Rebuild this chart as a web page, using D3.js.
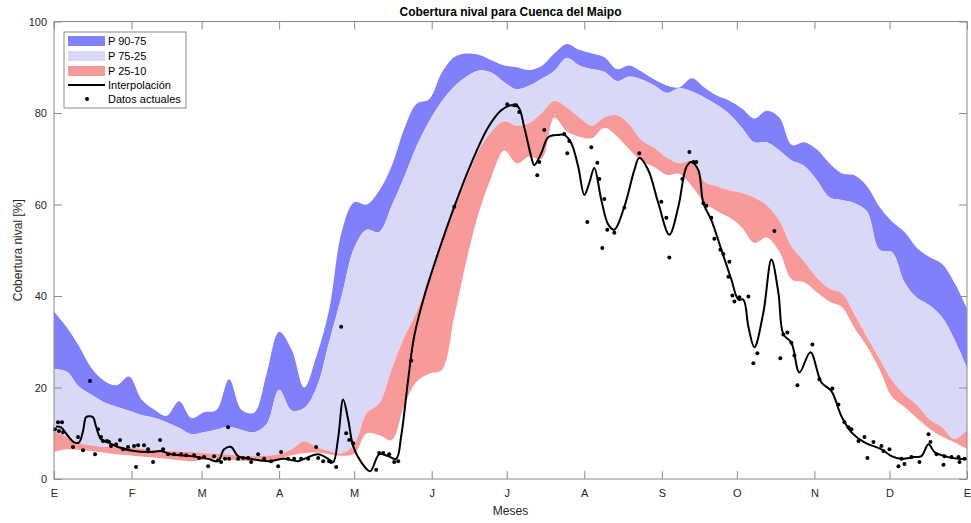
<!DOCTYPE html>
<html>
<head>
<meta charset="utf-8">
<script src="https://cdn.jsdelivr.net/npm/d3@7"></script>
<style>
  body { margin: 0; background: #fff; }
  text { font-family: "Liberation Sans", Arial, sans-serif; }
</style>
</head>
<body>
<div id="wrapper"></div>
<script>
// month ticks (day of year) and labels
const monthDays = [0, 31, 59, 90, 120, 151, 181, 212, 243, 273, 304, 334, 365]
const monthLabels = ["E", "F", "M", "A", "M", "J", "J", "A", "S", "O", "N", "D", "E"]
const yTicks = [0, 20, 40, 60, 80, 100]

// percentile curves, one value every 5 days (day 0 .. 365)
const p90 = [36.6, 33.2, 29, 24.2, 21.5, 20.5, 22.4, 17.4, 15.2, 13.8,
  17, 13.3, 14.6, 15.1, 21.8, 15.1, 14.5, 23, 32.2, 28.3,
  20, 27, 37, 54, 60.5, 60, 63, 68.4, 76.5, 82,
  83, 88.8, 92.2, 93, 92.7, 91.5, 90.4, 90, 89.4, 90.3,
  93, 95.1, 93.8, 93, 92.2, 89.6, 90.4, 89, 87.3, 86,
  85.6, 87.6, 85.6, 83.8, 82.7, 81, 78.8, 80.5, 79, 73,
  73.6, 72, 69, 66.8, 66.4, 64, 59.5, 56.3, 54, 50.5,
  48.5, 47, 42.9, 37.2]
const p75 = [24, 23.5, 20.2, 18.4, 16.8, 15.8, 14.9, 14, 13.4, 12.4,
  11.2, 9.8, 10.2, 10.8, 11.4, 10.7, 10.2, 12, 19.5, 15,
  15.5, 20, 30, 40, 50.5, 54.5, 54, 59.7, 66, 72.8,
  78.2, 82.5, 85.8, 88, 89.3, 88.8, 86.7, 85.2, 86, 87.5,
  89.2, 92, 90.4, 89.6, 89, 87, 88, 87.3, 86, 84.4,
  85.4, 84.7, 83.4, 81.8, 79.8, 76.8, 73.6, 73.6, 71.8, 69.6,
  68.4, 65.3, 61.6, 61, 60.3, 58.5, 50.1, 49.6, 43, 39.6,
  38, 35.4, 30.5, 24.3]
const p25 = [10.5, 9.3, 7.9, 7.3, 7, 7, 6.9, 6.6, 6.3, 6.1,
  6, 5.9, 5.7, 5.5, 5.3, 5.1, 5, 5.1, 5.4, 6.5,
  8.2, 7, 6.1, 5.6, 7.5, 14.4, 16.5, 24, 31, 36.5,
  44, 52.3, 59.5, 65.8, 72, 76, 78.2, 77.2, 77.8, 80,
  82.6, 81.2, 79, 77.2, 79, 79.5, 77.5, 74, 72.4, 70.2,
  69, 69.5, 65, 64, 63.1, 62.5, 61.5, 59.8, 56.4, 50.7,
  47.5, 44, 41.6, 40.6, 36, 31, 26.3, 21.6, 18.4, 16.2,
  13, 11.3, 8.7, 10.7]
const p10 = [5.9, 6.5, 6.4, 6.1, 5.8, 5.4, 5.2, 4.9, 4.7, 4.4,
  4.1, 3.9, 4.2, 4.4, 4.2, 4, 3.9, 4.1, 4.4, 5.2,
  5.7, 5.8, 5.4, 5.1, 5.5, 10, 9.6, 8.5, 16, 21.3,
  23, 23.8, 35.5, 48, 58.5, 66.2, 71.8, 69, 70.5, 70,
  79, 76, 74.8, 74.5, 76.8, 75, 72, 69.5, 68.2, 66.5,
  66.7, 64, 60.5, 58.6, 57.2, 55, 51.6, 52.8, 49.7, 43.6,
  43, 40.8, 38.8, 37.6, 33, 29, 24, 18, 15.8, 13.3,
  11, 9.3, 8, 6.6]

// interpolated line [day, value]
const interp = [[0.8, 11.5], [2.8, 11.3], [5.6, 9.4], [8, 8], [10, 8], [11.6, 10.5], [12.8, 13.5],
  [14, 13.7], [15.6, 13.5], [16.8, 11.5], [18.8, 8.7], [21.6, 8], [25.6, 7], [32, 6.1],
  [38.8, 5.9], [42.8, 6.1], [46.8, 5.4], [54.8, 5], [61.6, 4.4], [65.6, 3.9], [68, 6.5],
  [70.8, 7], [73.6, 5], [78.8, 4.4], [85.6, 3.9], [92, 4.4], [97.6, 3.9], [100, 4.4],
  [105.6, 5.4], [109.6, 4.4], [111.6, 3.7], [113.6, 9], [115.6, 17.4], [117.6, 13],
  [119.6, 7.2], [122.8, 3.7], [126.4, 1.7], [130, 5.4], [133.6, 5], [136.8, 4.4],
  [138.8, 9.4], [141.6, 21.8], [144, 31.2], [148, 39.9], [153.6, 49.5], [160, 59.5],
  [166.8, 69], [173.6, 76.9], [178.8, 80.6], [182.8, 81.7], [185.6, 81.3], [188, 76.9],
  [190.8, 70.4], [192, 68.6], [194.8, 71.2], [197.6, 74.7], [201.6, 75.2], [204, 75.2],
  [206.8, 73.4], [209.6, 68.2], [212, 62.1], [214, 64.7], [216, 68], [218.8, 61],
  [221.6, 55.6], [224, 54.5], [228, 59.5], [232, 67.5], [234, 70.2], [237.6, 67.5],
  [241.6, 60.3], [246, 53.4], [249.6, 59.5], [252.8, 68.2], [254.8, 69.3], [257.6, 67.5],
  [259.6, 60.3], [262.8, 56.6], [266.8, 50.1], [270.8, 43.6], [273.6, 39.2], [275.6, 39.2],
  [277.6, 33.3], [280, 28.8], [283.6, 36.4], [286.8, 48], [289.6, 40.7], [291.6, 31.6],
  [294.8, 29.8], [298, 23.3], [302.4, 27.7], [306.8, 21.1], [310.8, 19.2], [314.8, 13.7],
  [318.8, 10.2], [324, 8], [330.8, 6.5], [334.8, 5], [338.8, 4.4], [344, 4.8], [346.8, 5],
  [349.6, 7.6], [352, 5.9], [356, 5], [361.6, 4.4], [365, 4.4]]

// current data points [day, value]
const actual = [[0.4, 10.9], [1.6, 12.4], [3.2, 12.4], [2, 10.5], [3.6, 10.2], [7.6, 7], [9.6, 9.2],
  [11.6, 6.3], [14.4, 21.4], [16.4, 5.4], [17.6, 10.9], [18.8, 9.2], [19.6, 8.3], [21.2, 8.3],
  [22, 8.1], [22.8, 7.2], [24.8, 7.6], [26.4, 8.5], [27.6, 6.5], [29.6, 7], [32, 7.2],
  [32.8, 2.6], [33.6, 7.4], [36, 7.4], [37.6, 6.5], [39.6, 3.7], [42.4, 8.5], [43.6, 6.5],
  [45.6, 5.4], [48, 5.4], [50.8, 5.4], [52.8, 5.2], [56, 5.2], [58, 4.6], [60, 4.8],
  [61.6, 2.8], [64, 5], [65.6, 4.1], [66.8, 3.7], [68.4, 4.4], [69.6, 11.3], [70, 4.4],
  [73.6, 4.4], [75.6, 4.6], [77.6, 4.6], [78.8, 3.7], [81.6, 5.4], [84, 4.4], [86.8, 3.9],
  [89.6, 2.8], [90.8, 5.9], [93.6, 4.4], [96, 4.4], [98.8, 4.4], [101.6, 4.4], [104.8, 7],
  [105.6, 4.6], [107.6, 3.9], [110, 3.9], [110.8, 3.7], [112.8, 2.6], [114.8, 33.3],
  [116.8, 10], [118, 8.5], [119.6, 7.8], [128.8, 2], [130, 5.7], [131.6, 5.7], [134, 5.4],
  [136, 3.7], [137.6, 3.9], [142.8, 25.9], [160, 59.5], [181.2, 81.9], [184, 81.7],
  [184.8, 81.7], [186, 80.2], [193.2, 66.4], [194, 69.3], [196, 76.3], [204, 75.4],
  [205.2, 71.2], [206, 73.9], [214.8, 72.5], [213.2, 56.2], [217.2, 69.1], [218, 65.6],
  [219.2, 50.5], [220, 61.2], [221.2, 54.5], [224, 53.8], [228, 59.3], [234, 71.2],
  [242.8, 60.6], [244.8, 57.1], [246, 48.4], [251.2, 65.6], [254, 71.5], [255.6, 69.3],
  [256.8, 69.3], [259.6, 60.3], [260.8, 59.7], [262.8, 57.1], [264, 52.5], [266.4, 50.1],
  [267.6, 49.2], [270, 47.5], [269.6, 44.2], [271.2, 40.1], [272, 38.8], [274, 39.7],
  [277.6, 39.9], [279.6, 25.3], [281.2, 27.5], [288, 54.2], [290.4, 26.4], [291.6, 31.6],
  [293.2, 32], [294.8, 29.8], [296, 27], [297.2, 20.5], [303.2, 29.4], [306, 21.8],
  [311.2, 19.8], [313.6, 16.3], [316, 12.4], [317.6, 11.3], [318.8, 10.9], [321.6, 8.3],
  [324, 9.2], [325.2, 4.6], [327.6, 8.1], [330.8, 7.2], [331.6, 6.1], [334, 6.5],
  [337.6, 2.8], [338.8, 4.4], [340, 3.3], [342.8, 4.8], [346, 3.7], [349.6, 9.8],
  [350.4, 8.1], [352.8, 5.4], [355.6, 3.1], [356, 5], [358.8, 4.8], [361.6, 4.8],
  [362, 3.7], [364, 4.4]]

const legendLabels = ["P 90-75", "P 75-25", "P 25-10", "Interpolación", "Datos actuales"]
const colors = { dark: "#8080fa", light: "#d9d9f7", red: "#f89a9a" }

function drawChart() {
  const width = 971
  const height = 523
  const plot = { left: 54, right: 967, top: 21.5, bottom: 479 }
  const axisColor = "#8a8a8a"
  const textColor = "#262626"

  const svg = d3.select("#wrapper")
    .append("svg")
    .attr("width", width)
    .attr("height", height)

  const xScale = d3.scaleLinear().domain([0, 365]).range([plot.left, plot.right])
  const yScale = d3.scaleLinear().domain([0, 100]).range([plot.bottom, plot.top])

  const bands = p90.map((v, i) => ({ day: i * 5, p90: v, p75: p75[i], p25: p25[i], p10: p10[i] }))
    .map(d => ({ ...d, day: Math.min(d.day, 365) }))

  const area = (lo, hi) => d3.area()
    .x(d => xScale(d.day))
    .y0(d => yScale(d[lo]))
    .y1(d => yScale(d[hi]))
    .curve(d3.curveCatmullRom.alpha(0.5))

  svg.append("path").datum(bands).attr("d", area("p75", "p90")).attr("fill", colors.dark)
  svg.append("path").datum(bands).attr("d", area("p25", "p75")).attr("fill", colors.light)
  svg.append("path").datum(bands).attr("d", area("p10", "p25")).attr("fill", colors.red)

  const line = d3.line()
    .x(d => xScale(d[0]))
    .y(d => yScale(d[1]))
    .curve(d3.curveCatmullRom.alpha(0.5))

  svg.append("path")
    .datum(interp)
    .attr("d", line)
    .attr("fill", "none")
    .attr("stroke", "#000")
    .attr("stroke-width", 2)

  svg.append("g")
    .selectAll("circle")
    .data(actual)
    .join("circle")
    .attr("cx", d => xScale(d[0]))
    .attr("cy", d => yScale(d[1]))
    .attr("r", 2)
    .attr("fill", "#000")

  // axes, MATLAB style: box with inward ticks
  const styleAxis = g => {
    g.select(".domain").remove()
    g.selectAll(".tick line").attr("stroke", axisColor)
    g.selectAll(".tick text").attr("fill", textColor).attr("font-size", 11)
  }
  const fmtMonth = (d, i) => monthLabels[i]

  svg.append("g")
    .attr("transform", `translate(0,${plot.bottom})`)
    .call(d3.axisBottom(xScale).tickValues(monthDays).tickFormat(fmtMonth).tickSize(-8).tickPadding(10))
    .call(styleAxis)
  svg.append("g")
    .attr("transform", `translate(0,${plot.top})`)
    .call(d3.axisTop(xScale).tickValues(monthDays).tickFormat("").tickSize(-8))
    .call(styleAxis)
  svg.append("g")
    .attr("transform", `translate(${plot.left},0)`)
    .call(d3.axisLeft(yScale).tickValues(yTicks).tickSize(-8).tickPadding(7))
    .call(styleAxis)
  svg.append("g")
    .attr("transform", `translate(${plot.right},0)`)
    .call(d3.axisRight(yScale).tickValues(yTicks).tickFormat("").tickSize(-8))
    .call(styleAxis)

  svg.append("rect")
    .attr("x", plot.left).attr("y", plot.top)
    .attr("width", plot.right - plot.left).attr("height", plot.bottom - plot.top)
    .attr("fill", "none").attr("stroke", axisColor).attr("stroke-width", 1)

  // titles
  svg.append("text")
    .attr("x", (plot.left + plot.right) / 2).attr("y", 16)
    .attr("text-anchor", "middle").attr("font-size", 12).attr("font-weight", "bold")
    .attr("fill", "#000")
    .text("Cobertura nival para Cuenca del Maipo")
  svg.append("text")
    .attr("x", (plot.left + plot.right) / 2).attr("y", 515)
    .attr("text-anchor", "middle").attr("font-size", 12).attr("fill", textColor)
    .text("Meses")
  svg.append("text")
    .attr("transform", `translate(22,${(plot.top + plot.bottom) / 2}) rotate(-90)`)
    .attr("text-anchor", "middle").attr("font-size", 12).attr("fill", textColor)
    .text("Cobertura nival [%]")

  // legend
  const legend = svg.append("g").attr("transform", "translate(64,32)")
  legend.append("rect")
    .attr("width", 122).attr("height", 76)
    .attr("fill", "#fff").attr("stroke", axisColor)
  const rowY = [9, 24, 39, 53, 67]
  const patchColors = [colors.dark, colors.light, colors.red]
  patchColors.forEach((c, i) => {
    legend.append("rect")
      .attr("x", 4).attr("y", rowY[i] - 5)
      .attr("width", 37).attr("height", 10)
      .attr("fill", c)
  })
  legend.append("line")
    .attr("x1", 4).attr("x2", 41).attr("y1", rowY[3]).attr("y2", rowY[3])
    .attr("stroke", "#000").attr("stroke-width", 2)
  legend.append("circle")
    .attr("cx", 23).attr("cy", rowY[4]).attr("r", 2).attr("fill", "#000")
  legend.selectAll("text.lbl")
    .data(legendLabels)
    .join("text")
    .attr("class", "lbl")
    .attr("x", 44)
    .attr("y", (d, i) => rowY[i] + 4)
    .attr("font-size", 11)
    .attr("fill", "#000")
    .text(d => d)
}

drawChart()
</script>
</body>
</html>
